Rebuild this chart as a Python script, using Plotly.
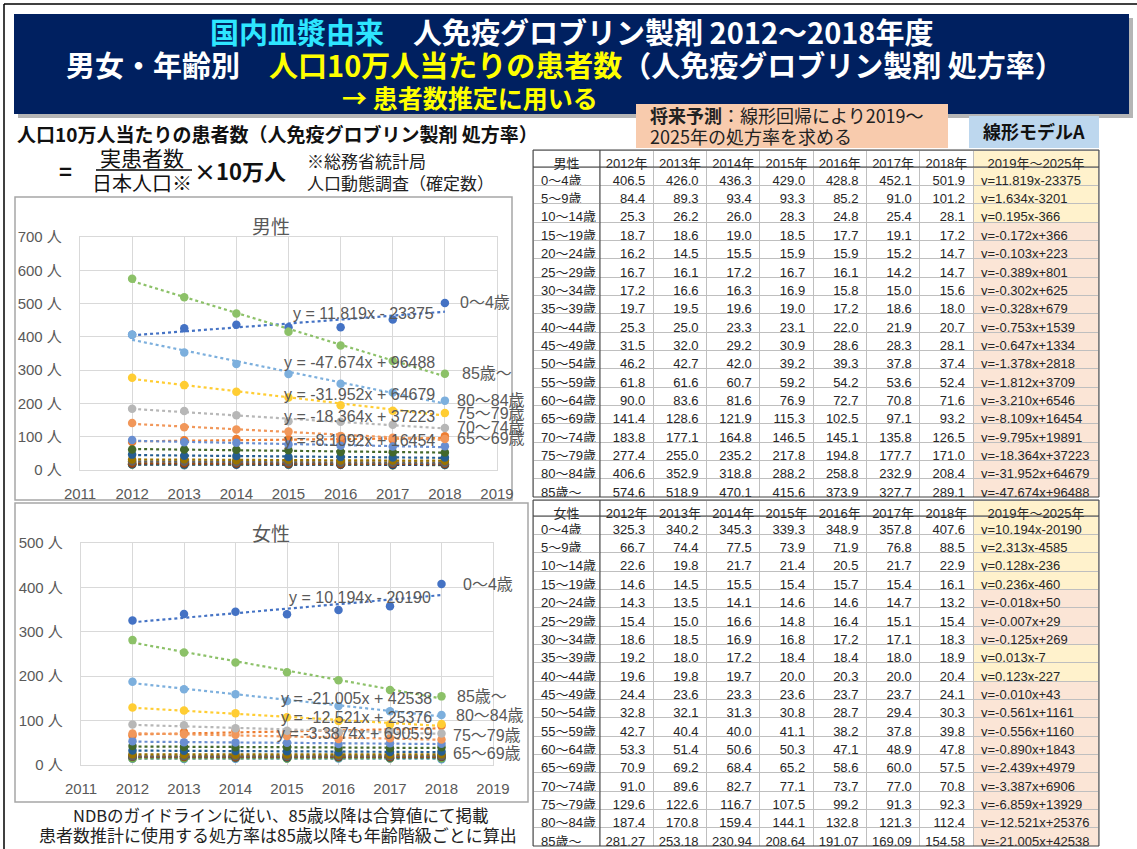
import numpy as np
import plotly.graph_objects as go

# ---------------- data ----------------
years = [2012, 2013, 2014, 2015, 2016, 2017, 2018]
age_groups = ["0～4歳", "5～9歳", "10～14歳", "15～19歳", "20～24歳", "25～29歳",
              "30～34歳", "35～39歳", "40～44歳", "45～49歳", "50～54歳", "55～59歳",
              "60～64歳", "65～69歳", "70～74歳", "75～79歳", "80～84歳", "85歳～"]

male_rates = [
    [406.5, 426.0, 436.3, 429.0, 428.8, 452.1, 501.9],
    [84.4, 89.3, 93.4, 93.3, 85.2, 91.0, 101.2],
    [25.3, 26.2, 26.0, 28.3, 24.8, 25.4, 28.1],
    [18.7, 18.6, 19.0, 18.5, 17.7, 19.1, 17.2],
    [16.2, 14.5, 15.5, 15.9, 15.9, 15.2, 14.7],
    [16.7, 16.1, 17.2, 16.7, 16.1, 14.2, 14.7],
    [17.2, 16.6, 16.3, 16.9, 15.8, 15.0, 15.6],
    [19.7, 19.5, 19.6, 19.0, 17.2, 18.6, 18.0],
    [25.3, 25.0, 23.3, 23.1, 22.0, 21.9, 20.7],
    [31.5, 32.0, 29.2, 30.9, 28.6, 28.3, 28.1],
    [46.2, 42.7, 42.0, 39.2, 39.3, 37.8, 37.4],
    [61.8, 61.6, 60.7, 59.2, 54.2, 53.6, 52.4],
    [90.0, 83.6, 81.6, 76.9, 72.7, 70.8, 71.6],
    [141.4, 128.6, 121.9, 115.3, 102.5, 97.1, 93.2],
    [183.8, 177.1, 164.8, 146.5, 145.1, 135.8, 126.5],
    [277.4, 255.0, 235.2, 217.8, 194.8, 177.7, 171.0],
    [406.6, 352.9, 318.8, 288.2, 258.8, 232.9, 208.4],
    [574.6, 518.9, 470.1, 415.6, 373.9, 327.7, 289.1],
]
female_rates = [
    [325.3, 340.2, 345.3, 339.3, 348.9, 357.8, 407.6],
    [66.7, 74.4, 77.5, 73.9, 71.9, 76.8, 88.5],
    [22.6, 19.8, 21.7, 21.4, 20.5, 21.7, 22.9],
    [14.6, 14.5, 15.5, 15.4, 15.7, 15.4, 16.1],
    [14.3, 13.5, 14.1, 14.6, 14.6, 14.7, 13.2],
    [15.4, 15.0, 16.6, 14.8, 16.4, 15.1, 15.4],
    [18.6, 18.5, 16.9, 16.8, 17.2, 17.1, 18.3],
    [19.2, 18.0, 17.2, 18.4, 18.4, 18.0, 18.9],
    [19.6, 19.8, 19.7, 20.0, 20.3, 20.0, 20.4],
    [24.4, 23.6, 23.3, 23.6, 23.7, 23.7, 24.1],
    [32.8, 32.1, 31.3, 30.8, 28.7, 29.4, 30.3],
    [42.7, 40.4, 40.0, 41.1, 38.2, 37.8, 39.8],
    [53.3, 51.4, 50.6, 50.3, 47.1, 48.9, 47.8],
    [70.9, 69.2, 68.4, 65.2, 58.6, 60.0, 57.5],
    [91.0, 89.6, 82.7, 77.1, 73.7, 77.0, 70.8],
    [129.6, 122.6, 116.7, 107.5, 99.2, 91.3, 92.3],
    [187.4, 170.8, 159.4, 144.1, 132.8, 121.3, 112.4],
    [281.27, 253.18, 230.94, 208.64, 191.07, 169.09, 154.58],
]
male_decimals = [1] * 18
female_decimals = [1] * 17 + [2]

male_slope = [11.819, 1.634, 0.195, -0.172, -0.103, -0.389, -0.302, -0.328, -0.753,
              -0.647, -1.378, -1.812, -3.210, -8.109, -9.795, -18.364, -31.952, -47.674]
male_intercept = [-23375, -3201, -366, 366, 223, 801, 625, 679, 1539,
                  1334, 2818, 3709, 6546, 16454, 19891, 37223, 64679, 96488]
female_slope = [10.194, 2.313, 0.128, 0.236, -0.018, -0.007, -0.125, 0.013, 0.123,
                -0.010, -0.561, -0.556, -0.890, -2.439, -3.387, -6.859, -12.521, -21.005]
female_intercept = [-20190, -4585, -236, -460, 50, 29, 269, -7, -227,
                    43, 1161, 1160, 1843, 4979, 6906, 13929, 25376, 42538]

# trendline equation labels shown on the charts (Excel format)
male_eq_text = {"0～4歳": "y = 11.819x - 23375", "85歳～": "y = -47.674x + 96488",
                "80～84歳": "y = -31.952x + 64679", "75～79歳": "y = -18.364x + 37223",
                "65～69歳": "y = -8.1092x + 16454"}
female_eq_text = {"0～4歳": "y = 10.194x - 20190", "85歳～": "y = -21.005x + 42538",
                  "80～84歳": "y = -12.521x + 25376", "70～74歳": "y = -3.3874x + 6905.9"}

male_labeled = ["0～4歳", "85歳～", "80～84歳", "75～79歳", "70～74歳", "65～69歳"]
female_labeled = ["0～4歳", "85歳～", "80～84歳", "75～79歳", "65～69歳"]

# ---------------- style ----------------
W, H = 1137, 849
JP = "Noto Sans CJK JP"
LAT = "Liberation Sans, Noto Sans CJK JP"
TBL = "Liberation Sans, Noto Sans CJK JP"
GRAY = "#595959"
colors = ["#4472C4", "#ED7D31", "#A5A5A5", "#FFC000", "#5B9BD5", "#70AD47",
          "#264478", "#9E480E", "#636363", "#997300", "#255E91", "#43682B",
          "#698ED0", "#F1975A", "#B7B7B7", "#FFCD33", "#7CAFDD", "#8CC168"]

# label placement (data x, data y) for trendline equations
male_eq_pos = {"0～4歳": (2016.43, 471), "85歳～": (2016.36, 324), "80～84歳": (2016.36, 228),
               "75～79歳": (2016.36, 162), "65～69歳": (2016.36, 90)}
female_eq_pos = {"0～4歳": (2016.42, 378), "85歳～": (2016.34, 149), "80～84歳": (2016.34, 108),
                 "70～74歳": (2016.32, 70)}
# data-label offsets (px)
male_lbl_shift = {"0～4歳": (9, 0), "85歳～": (11, 0), "80～84歳": (6, 0),
                  "75～79歳": (6, 0), "70～74歳": (6, 0), "65～69歳": (6, 0)}
female_lbl_shift = {"0～4歳": (15, 0), "85歳～": (9, 0), "80～84歳": (8, 0),
                    "75～79歳": (5, -11), "65～69歳": (5, -14)}


def fx(x):
    return x / W


def fy(y):
    return 1 - y / H


fig = go.Figure()
annotations = []
shapes = []


def txt(x, y, s, size, color="#222222", xanchor="center", family=JP):
    annotations.append(dict(x=fx(x), y=fy(y), xref="paper", yref="paper", text=s,
                            showarrow=False, xanchor=xanchor, yanchor="middle",
                            font=dict(size=size, color=color, family=family)))


def rect(x0, y0, x1, y1, fill=None, line=None, lw=1, layer="below", dash="solid"):
    shapes.append(dict(type="rect", xref="paper", yref="paper", x0=fx(x0), x1=fx(x1),
                       y0=fy(y1), y1=fy(y0), fillcolor=fill or "rgba(0,0,0,0)",
                       line=dict(color=line or "rgba(0,0,0,0)", width=lw if line else 0, dash=dash),
                       layer=layer))


def hline(x0, x1, y, color, lw=1, layer="above", dash="solid"):
    shapes.append(dict(type="line", xref="paper", yref="paper", x0=fx(x0), x1=fx(x1),
                       y0=fy(y), y1=fy(y), line=dict(color=color, width=lw, dash=dash), layer=layer))


def vline(x, y0, y1, color, lw=1, layer="above", dash="solid"):
    shapes.append(dict(type="line", xref="paper", yref="paper", x0=fx(x), x1=fx(x),
                       y0=fy(y0), y1=fy(y1), line=dict(color=color, width=lw, dash=dash), layer=layer))


# ---------------- charts ----------------
def add_chart(rates, xa, ya, eq_text, eq_pos, labeled, shifts):
    xr = "x" if xa == 1 else f"x{xa}"
    yr = "y" if ya == 1 else f"y{ya}"
    for i, g in enumerate(age_groups):
        vals = rates[i]
        k, b = np.polyfit(years, vals, 1)
        trend = [k * yy + b for yy in years]
        fig.add_trace(go.Scatter(x=years, y=trend, mode="lines", xaxis=xr, yaxis=yr,
                                 line=dict(color=colors[i], width=2.2, dash="dot"),
                                 hoverinfo="skip", showlegend=False))
        fig.add_trace(go.Scatter(x=years, y=vals, mode="markers", xaxis=xr, yaxis=yr,
                                 marker=dict(color=colors[i], size=8.5), name=g,
                                 showlegend=False))
    for g, s in eq_text.items():
        px_, py_ = eq_pos[g]
        annotations.append(dict(x=px_, y=py_, xref=xr, yref=yr, text=s, showarrow=False,
                                xanchor="center", yanchor="middle",
                                font=dict(size=16, color=GRAY, family=LAT)))
    for g in labeled:
        i = age_groups.index(g)
        dx, dy = shifts[g]
        annotations.append(dict(x=years[-1], y=rates[i][-1], xref=xr, yref=yr, text=g,
                                showarrow=False, xanchor="left", yanchor="middle",
                                xshift=dx + 4, yshift=dy,
                                font=dict(size=16, color=GRAY, family=LAT)))


add_chart(male_rates, 1, 1, male_eq_text, male_eq_pos, male_labeled, male_lbl_shift)
add_chart(female_rates, 2, 2, female_eq_text, female_eq_pos, female_labeled, female_lbl_shift)

axis_common = dict(showgrid=True, gridcolor="#d9d9d9", gridwidth=1.3, zeroline=False,
                   showline=True, mirror=True, linecolor="#d9d9d9", linewidth=1.3,
                   ticks="", automargin=False, tickfont=dict(size=15, color=GRAY, family=LAT))


# ---------------- tables ----------------
def fmt_rows(rates, decs):
    cols = []
    for c in range(len(years)):
        cols.append([f"{rates[r][c]:.{decs[r]}f}" for r in range(len(age_groups))])
    return cols


def add_table(sex, rates, decs, slopes, icpts, x0, x1, y0, y1, header_h, row_h):
    formulas = [f"y={s:.3f}x{b:+d}" for s, b in zip(slopes, icpts)]
    fcol = ["#fff2cc" if s > 0 else "#fbe5d6" for s in slopes]
    header_vals = [sex] + [f"{y}年" for y in years] + ["2019年～2025年"]
    cells = [age_groups] + fmt_rows(rates, decs) + [formulas]
    fills = [["white"] * len(age_groups)] * (len(years) + 1) + [fcol]
    fig.add_trace(go.Table(
        domain=dict(x=[fx(x0), fx(x1)], y=[fy(y1), fy(y0)]),
        columnwidth=[67] + [53.3] * 7 + [126],
        header=dict(values=header_vals, height=header_h,
                    fill=dict(color=["white"] * 8 + ["#fff2cc"]),
                    line=dict(color="#bfbfbf", width=1),
                    align=["center"] * 9,
                    font=dict(size=13, color="#262626", family=TBL)),
        cells=dict(values=cells, height=row_h,
                   fill=dict(color=fills),
                   line=dict(color="#bfbfbf", width=1),
                   align=["left"] + ["right"] * 7 + ["left"],
                   font=dict(size=13, color="#262626", family=TBL)),
    ))
    rect(x0, y0, x1, y1, line="#404040", lw=1, layer="above")
    vline(x0 + 67, y0, y1, "#404040", 1)
    hline(x0, x1, y0 + header_h, "#404040", 1)


add_table("男性", male_rates, male_decimals, male_slope, male_intercept,
          533, 1099, 150, 497, 17, 18.35)
add_table("女性", female_rates, female_decimals, female_slope, female_intercept,
          533, 1099, 500, 846, 16, 18.35)

# ---------------- decorations ----------------
hline(4, W, 4, "#000000", 1.5)
vline(4, 4, H, "#000000", 1.5)
rect(18, 18, 1133, 118, fill="rgba(90,90,90,0.45)")
rect(14, 14, 1129, 114, fill="#002060")
rect(636, 104, 948, 148, fill="#f8cbad")
rect(969, 116, 1099, 148, fill="#bdd7ee")
rect(15, 197, 512, 500, line="#a6a6a6", lw=1.5)
rect(15, 503, 528, 802, line="#a6a6a6", lw=1.5)
hline(96, 192, 170, "#000000", 1.5)

# ---------------- texts ----------------
txt(571, 31, "<b><span style='color:#2ee6ff'>国内血漿由来</span>　人免疫グロブリン製剤 2012～2018年度</b>",
    29, "white")
txt(565, 64, "<b>男女・年齢別　<span style='color:#ffff00'>人口10万人当たりの患者数</span>（人免疫グロブリン製剤 処方率）</b>",
    29, "white")
txt(470, 97, "<b>→ 患者数推定に用いる</b>", 25, "#ffff00")
txt(648, 115, "<b>将来予測</b>：線形回帰により2019～", 18, "#222222", xanchor="left")
txt(648, 136, "2025年の処方率を求める", 18, "#222222", xanchor="left")
txt(1034, 131, "<b>線形モデルA</b>", 18, "#111111")
txt(15, 133, "<b>人口10万人当たりの患者数（人免疫グロブリン製剤 処方率）</b>", 19, "#111111", xanchor="left")
txt(65, 170, "<b>=</b>", 22, "#111111")
txt(142, 157, "実患者数", 21, "#111111")
txt(142, 183, "日本人口※", 20, "#111111")
txt(240, 170, "<b>×10万人</b>", 22, "#111111")
txt(305, 160, "※総務省統計局", 17, "#222222", xanchor="left")
txt(305, 183, "人口動態調査（確定数）", 17, "#222222", xanchor="left")
txt(271, 225, "男性", 19, GRAY)
txt(271, 532, "女性", 19, GRAY)
txt(280, 815, "NDBのガイドラインに従い、85歳以降は合算値にて掲載", 16.5, "#222222")
txt(278, 834, "患者数推計に使用する処方率は85歳以降も年齢階級ごとに算出", 17, "#222222")

fig.update_layout(
    template="none",
    width=W, height=H, margin=dict(l=0, r=0, t=0, b=0, pad=0, autoexpand=False),
    paper_bgcolor="white", plot_bgcolor="white", showlegend=False,
    xaxis=dict(domain=[fx(80), fx(497)], range=[2011, 2019], dtick=1, anchor="y",
               ticklabelstandoff=10, **axis_common),
    yaxis=dict(domain=[fy(470), fy(237)], range=[0, 700], dtick=100, ticksuffix=" 人",
               anchor="x", ticklabelstandoff=14, **axis_common),
    xaxis2=dict(domain=[fx(81), fx(493)], range=[2011, 2019], dtick=1, anchor="y2",
                ticklabelstandoff=10, **axis_common),
    yaxis2=dict(domain=[fy(765), fy(543)], range=[0, 500], dtick=100, ticksuffix=" 人",
                anchor="x2", ticklabelstandoff=14, **axis_common),
    annotations=annotations, shapes=shapes,
)

fig.write_html("out.html", config={"displayModeBar": False},
               post_script="document.body.style.margin='0px';document.body.style.overflow='hidden';")
